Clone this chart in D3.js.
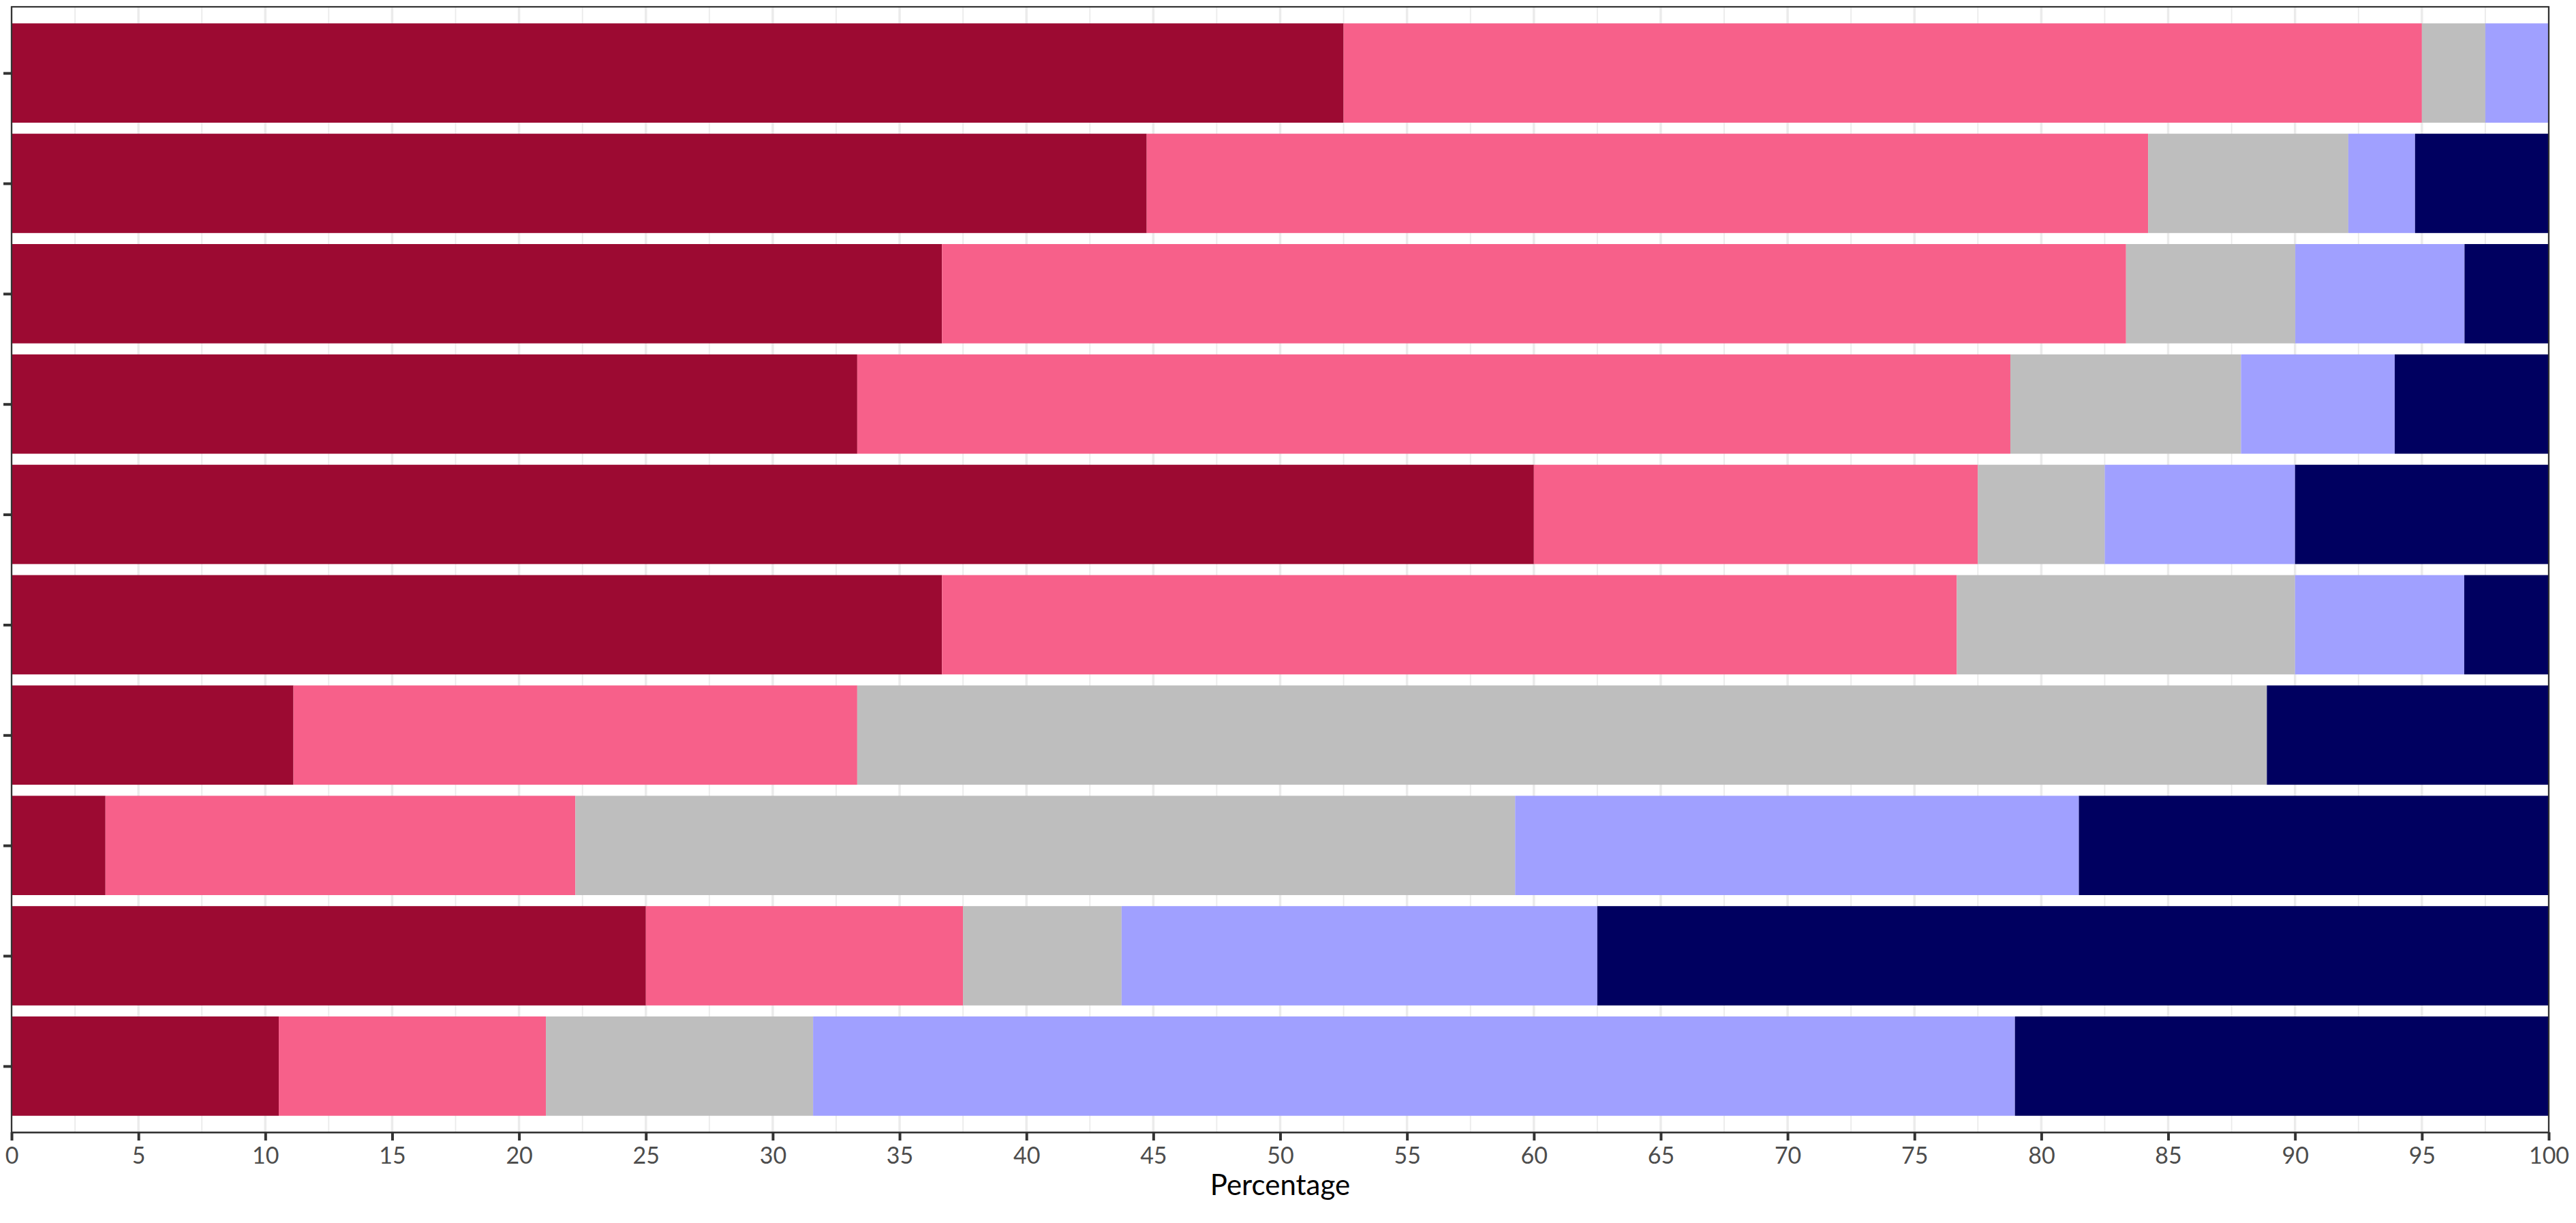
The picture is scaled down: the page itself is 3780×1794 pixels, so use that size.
<!DOCTYPE html>
<html>
<head>
<meta charset="utf-8">
<script src="https://cdn.jsdelivr.net/npm/d3@7"></script>
<style>
  html, body { margin: 0; padding: 0; background: #fff; }
  svg { display: block; }
</style>
</head>
<body>
<svg id="chart" width="3780" height="1794"></svg>
<script>
// ---- data ----
const categories = ["R1","R2","R3","R4","R5","R6","R7","R8","R9","R10"];
const seriesNames = ["s1","s2","s3","s4","s5"];
const s1 = [52.5, 44.74, 36.67, 33.33, 60.0, 36.67, 11.11, 3.70, 25.0, 10.53];
const s2 = [42.5, 39.47, 46.67, 45.45, 17.5, 40.0, 22.22, 18.52, 12.5, 10.53];
const s3 = [2.5, 7.89, 6.67, 9.09, 5.0, 13.33, 55.56, 37.04, 6.25, 10.53];
const s4 = [2.5, 2.63, 6.67, 6.06, 7.5, 6.67, 0, 22.22, 18.75, 47.37];
const s5 = [0, 5.26, 3.33, 6.06, 10.0, 3.33, 11.11, 18.52, 37.5, 21.05];
const colors = ["#9C0A32", "#F7608A", "#BEBEBE", "#A0A0FF", "#000060"];
const xTicks = [0,5,10,15,20,25,30,35,40,45,50,55,60,65,70,75,80,85,90,95,100];
const xTitle = "Percentage";

// ---- layout ----
const svg = d3.select("#chart");
const L = 17, R = 3740, T = 10, B = 1661;

const x = d3.scaleLinear().domain([0, 100]).range([L, R]);
const n = categories.length;
const step = (B - T) / (n + 0.2);
const yc = d3.scalePoint().domain(categories).range([T + 0.6 * step, B - 0.6 * step]);
const bw = 0.9 * step;

const rows = categories.map((c, i) => {
  const vals = [s1[i], s2[i], s3[i], s4[i], s5[i]];
  const obj = { cat: c };
  seriesNames.forEach((k, j) => obj[k] = vals[j]);
  return obj;
});
const stacked = d3.stack().keys(seriesNames)(rows);

// grid
const minor = d3.range(2.5, 100, 5);
svg.append("g").selectAll("line").data(minor).join("line")
  .attr("x1", d => x(d)).attr("x2", d => x(d))
  .attr("y1", T).attr("y2", B)
  .attr("stroke", "#EBEBEB").attr("stroke-width", 1.8);
svg.append("g").selectAll("line").data(xTicks).join("line")
  .attr("x1", d => x(d)).attr("x2", d => x(d))
  .attr("y1", T).attr("y2", B)
  .attr("stroke", "#EBEBEB").attr("stroke-width", 3.5);

// bars
svg.append("g").selectAll("g").data(stacked).join("g")
  .attr("fill", (d, i) => colors[i])
  .selectAll("rect").data(d => d).join("rect")
  .attr("x", d => x(d[0]))
  .attr("width", d => Math.max(0, x(d[1]) - x(d[0])))
  .attr("y", d => yc(d.data.cat) - bw / 2)
  .attr("height", bw);

// panel border
svg.append("rect")
  .attr("x", L).attr("y", T).attr("width", R - L).attr("height", B - T)
  .attr("fill", "none").attr("stroke", "#333333").attr("stroke-width", 2.2);

// x axis
const xAxis = svg.append("g").attr("transform", `translate(0,${B})`)
  .call(d3.axisBottom(x).tickValues(xTicks).tickSize(12).tickPadding(10).tickFormat(d3.format("d")));
xAxis.select(".domain").attr("stroke", "#333333").attr("stroke-width", 2.2);
xAxis.selectAll(".tick line").attr("stroke", "#333333").attr("stroke-width", 4);
xAxis.selectAll(".tick text")
  .attr("fill", "#4D4D4D")
  .style("font-family", "Lato, sans-serif")
  .style("font-size", "34px");

// y axis (ticks only, no labels)
const yAxis = svg.append("g").attr("transform", `translate(${L},0)`)
  .call(d3.axisLeft(yc).tickSize(12).tickFormat(""));
yAxis.select(".domain").remove();
yAxis.selectAll(".tick line").attr("stroke", "#333333").attr("stroke-width", 4);

// x title
svg.append("text")
  .attr("x", (L + R) / 2).attr("y", 1753)
  .attr("text-anchor", "middle")
  .attr("fill", "#000000")
  .style("font-family", "Lato, sans-serif")
  .style("font-size", "42px")
  .text(xTitle);
</script>
</body>
</html>
